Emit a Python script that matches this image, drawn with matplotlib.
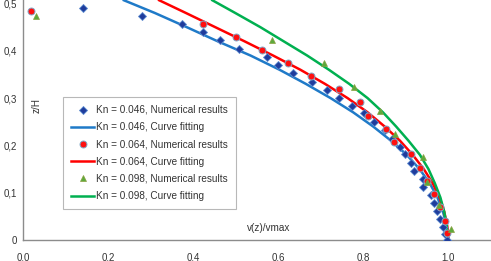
import matplotlib
matplotlib.use('Agg')
import matplotlib.pyplot as plt

plt.rcParams['font.family'] = ['Liberation Sans', 'DejaVu Sans']

# Kn = 0.046, numerical results
blue_x = [0.141, 0.280, 0.374, 0.424, 0.464, 0.508, 0.574, 0.600, 0.635, 0.680,
          0.715, 0.742, 0.774, 0.802, 0.824, 0.852, 0.868, 0.885, 0.897, 0.913,
          0.920, 0.941, 0.941, 0.958, 0.965, 0.972, 0.981, 0.988, 0.993, 0.997]
blue_y = [0.490, 0.474, 0.457, 0.440, 0.423, 0.404, 0.387, 0.370, 0.353, 0.334,
          0.317, 0.300, 0.283, 0.268, 0.249, 0.233, 0.213, 0.197, 0.181, 0.163,
          0.146, 0.129, 0.112, 0.095, 0.078, 0.061, 0.044, 0.027, 0.012, 0.000]

# Kn = 0.064, numerical results
red_x = [0.019, 0.424, 0.501, 0.562, 0.624, 0.676, 0.742, 0.791, 0.812, 0.854,
         0.873, 0.911, 0.932, 0.950, 0.967, 0.981, 0.991, 0.997]
red_y = [0.484, 0.457, 0.429, 0.402, 0.374, 0.347, 0.319, 0.292, 0.262, 0.235,
         0.207, 0.181, 0.153, 0.125, 0.097, 0.070, 0.040, 0.015]

# Kn = 0.098, numerical results
green_x = [0.031, 0.586, 0.708, 0.779, 0.840, 0.875, 0.941, 0.950, 0.977, 1.007]
green_y = [0.474, 0.423, 0.374, 0.324, 0.273, 0.224, 0.175, 0.123, 0.075, 0.023]

# curve fittings
fit_y = [0.507, 0.48, 0.45, 0.42, 0.39, 0.36, 0.33, 0.30, 0.27, 0.24,
         0.21, 0.18, 0.15, 0.12, 0.09, 0.06, 0.03, 0.0]
blue_fit_x = [0.237, 0.310, 0.385, 0.458, 0.535, 0.603, 0.665, 0.723, 0.776, 0.823,
              0.865, 0.902, 0.932, 0.956, 0.974, 0.987, 0.996, 1.000]
red_fit_x = [0.320, 0.383, 0.452, 0.521, 0.588, 0.652, 0.710, 0.763, 0.810, 0.850,
             0.886, 0.916, 0.942, 0.963, 0.979, 0.990, 0.997, 1.000]
green_fit_x = [0.445, 0.499, 0.558, 0.613, 0.668, 0.719, 0.767, 0.810, 0.846, 0.877,
               0.906, 0.933, 0.953, 0.968, 0.981, 0.990, 0.996, 0.998]

x_ticks = [0.0, 0.2, 0.4, 0.6, 0.8, 1.0]
x_labels = ['0,0', '0,2', '0,4', '0,6', '0,8', '1,0']
y_ticks = [0.0, 0.1, 0.2, 0.3, 0.4, 0.5]
y_labels = ['0', '0,1', '0,2', '0,3', '0,4', '0,5']

fig = plt.figure(figsize=(4.91, 2.61), dpi=100)
ax = fig.add_axes([23 / 491, 21 / 261, 468 / 491, 240 / 261])

fs = 7.2
txt = '#333333'
ax.plot(blue_x, blue_y, linestyle='none', marker='D', markersize=3.8,
        markerfacecolor='#1F3C9C', markeredgecolor='#5B8BD0', markeredgewidth=0.6,
        label='Kn = 0.046, Numerical results', zorder=4)
ax.plot(blue_fit_x, fit_y, color='#1F7AC8', linewidth=1.8,
        label='Kn = 0.046, Curve fitting', zorder=2)
ax.plot(red_x, red_y, linestyle='none', marker='o', markersize=5,
        markerfacecolor='#FF1010', markeredgecolor='#7FA8C8', markeredgewidth=0.7,
        label='Kn = 0.064, Numerical results', zorder=4)
ax.plot(red_fit_x, fit_y, color='#FF0000', linewidth=1.8,
        label='Kn = 0.064, Curve fitting', zorder=2)
ax.plot(green_x, green_y, linestyle='none', marker='^', markersize=5,
        markerfacecolor='#5DAA3C', markeredgecolor='#8AA040', markeredgewidth=0.5,
        label='Kn = 0.098, Numerical results', zorder=4)
ax.plot(green_fit_x, fit_y, color='#00B050', linewidth=1.8,
        label='Kn = 0.098, Curve fitting', zorder=2)

ax.set_xlim(0, 1.1)
ax.set_ylim(0, 0.5075)
ax.set_xticks(x_ticks)
ax.set_xticklabels(x_labels)
ax.set_yticks(y_ticks)
ax.set_yticklabels(y_labels)
ax.tick_params(axis='both', length=0, labelsize=7, colors=txt)
ax.tick_params(axis='x', pad=9)
ax.tick_params(axis='y', pad=4)

for side in ['top', 'right']:
    ax.spines[side].set_visible(False)
for side in ['left', 'bottom']:
    ax.spines[side].set_color('#8C8C8C')
    ax.spines[side].set_linewidth(1.0)

ax.text(0.033, 0.285, 'z/H', rotation=90, fontsize=fs, color=txt,
        ha='center', va='center')
ax.text(0.527, 0.025, 'v(z)/vmax', fontsize=fs, color=txt,
        ha='left', va='center')

leg = ax.legend(loc='upper left', bbox_to_anchor=(40 / 468, 1 - 97 / 240),
                borderaxespad=0, fontsize=fs, handlelength=2.3, handletextpad=0.2,
                labelspacing=0.72, borderpad=0.8, fancybox=False, frameon=True)
leg.get_frame().set_edgecolor('#A6A6A6')
leg.get_frame().set_linewidth(0.8)
for t in leg.get_texts():
    t.set_color(txt)

fig.savefig('out.png', dpi=100)
